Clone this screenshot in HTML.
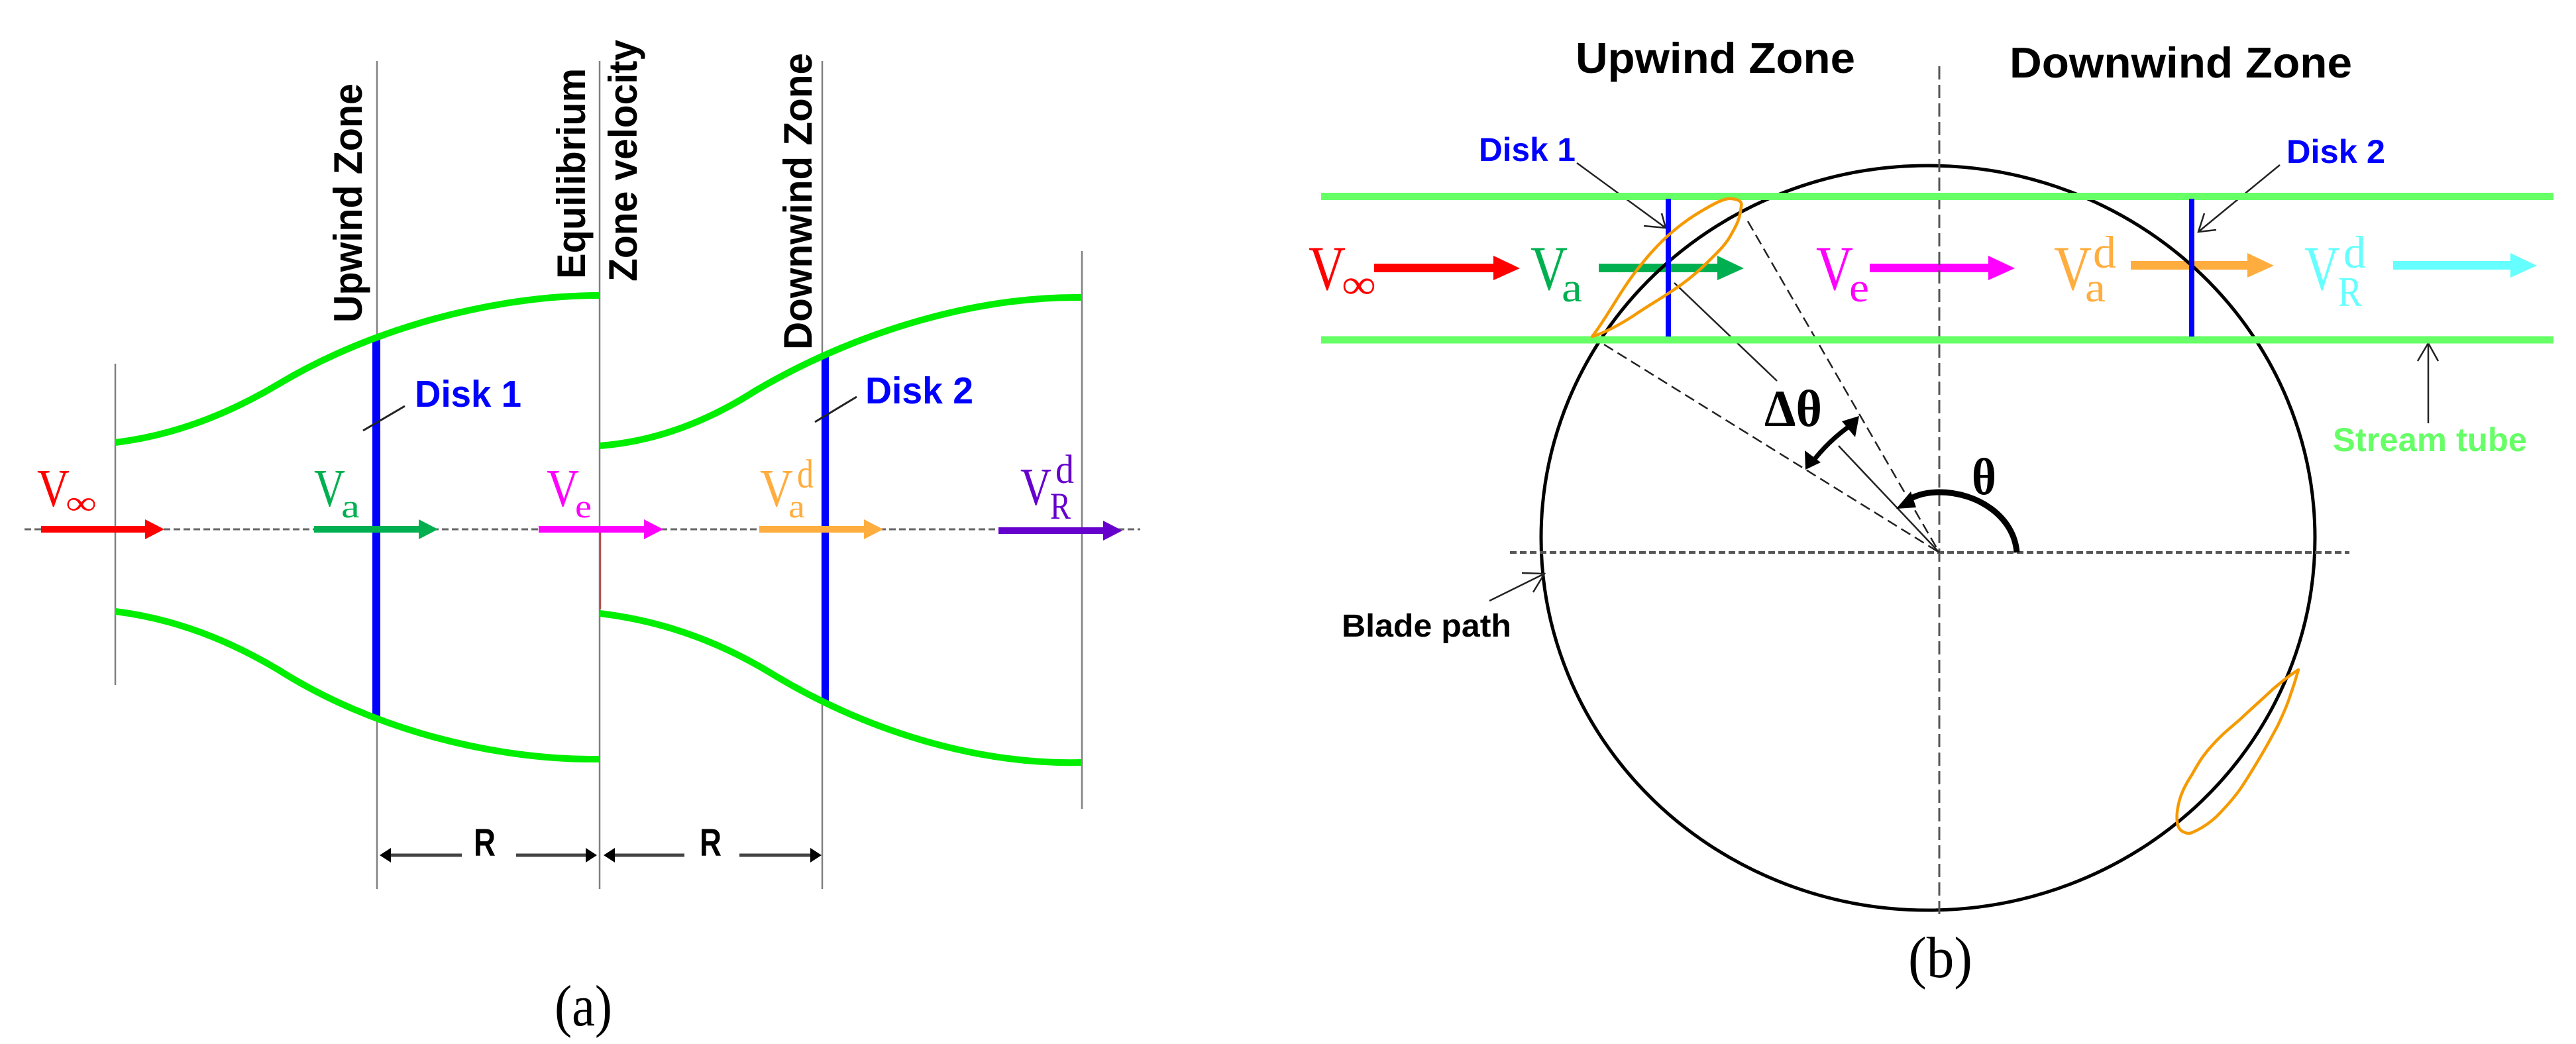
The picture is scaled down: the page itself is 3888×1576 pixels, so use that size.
<!DOCTYPE html>
<html><head><meta charset="utf-8"><style>
html,body{margin:0;padding:0;background:#fff}
svg{display:block}
.s{font-family:"Liberation Sans",sans-serif;font-weight:700}
.r{font-family:"Liberation Serif",serif}
.b{font-family:"Liberation Serif",serif;font-weight:700}
</style></head><body>
<svg xmlns="http://www.w3.org/2000/svg" width="3888" height="1576" viewBox="0 0 3888 1576">
<rect width="3888" height="1576" fill="#fff"/>

<!-- PANEL A -->
<g stroke="#808080" stroke-width="2.5" fill="none">
<line x1="174" y1="549" x2="174" y2="1034"/>
<line x1="569" y1="92" x2="569" y2="1342"/>
<line x1="905" y1="92" x2="905" y2="1342"/>
<line x1="1241" y1="92" x2="1241" y2="1342"/>
<line x1="1633" y1="379" x2="1633" y2="1221"/>
</g>
<line x1="906" y1="800" x2="906" y2="920" stroke="#b05050" stroke-width="2.5"/>
<line x1="37" y1="799" x2="1721" y2="799" stroke="#666" stroke-width="3" stroke-dasharray="10 5"/>
<rect x="562" y="510" width="12" height="572" fill="#0000ff"/>
<rect x="1240" y="538" width="11" height="524" fill="#0000ff"/>

<g fill="none" stroke="#00ee00" stroke-width="10">
<path d="M174 668 C256 658 338 629 420 580 C560 496 745 446 905 446"/>
<path d="M174 923 C256 933 338 962 420 1011 C560 1100 745 1148 905 1146"/>
<path d="M905 673 C983 667 1062 640 1140 590 C1290 502 1470 447 1633 449"/>
<path d="M905 926 C990 936 1075 963 1160 1014 C1300 1100 1470 1155 1633 1151"/>
</g>

<polygon fill="#ff0000" points="62,794 219,794 219,784 248,799 219,814 219,804 62,804"/>
<polygon fill="#00b050" points="474,794 632,794 632,784 661,799 632,814 632,804 474,804"/>
<polygon fill="#ff00ff" points="813,794 972,794 972,784 1001,799 972,814 972,804 813,804"/>
<polygon fill="#ffad3f" points="1146,794 1304,794 1304,784 1333,799 1304,814 1304,804 1146,804"/>
<polygon fill="#6600cc" points="1507,796 1665,796 1665,786 1694,801 1665,816 1665,806 1507,806"/>

<g class="s" fill="#000" font-size="60">
<text transform="translate(546,487) rotate(-90)" textLength="361" lengthAdjust="spacingAndGlyphs">Upwind Zone</text>
<text transform="translate(883,421) rotate(-90)" textLength="318" lengthAdjust="spacingAndGlyphs">Equilibrium</text>
<text transform="translate(961,425) rotate(-90)" textLength="365" lengthAdjust="spacingAndGlyphs">Zone velocity</text>
<text transform="translate(1225,528) rotate(-90)" textLength="448" lengthAdjust="spacingAndGlyphs">Downwind Zone</text>
</g>
<g class="s" fill="#0000ff" font-size="57">
<text x="626" y="614" textLength="161" lengthAdjust="spacingAndGlyphs">Disk 1</text>
<text x="1306" y="609" textLength="163" lengthAdjust="spacingAndGlyphs">Disk 2</text>
</g>
<g stroke="#222" stroke-width="3">
<line x1="611" y1="613" x2="548" y2="650"/>
<line x1="1293" y1="599" x2="1230" y2="637"/>
</g>

<g class="r" font-size="80">
<text x="56" y="764" fill="#ff0000" textLength="49" lengthAdjust="spacingAndGlyphs">V</text>
<text x="99" y="776" fill="#ff0000" font-size="50" textLength="47" lengthAdjust="spacingAndGlyphs">∞</text>
<text x="474" y="764" fill="#00b050" textLength="47" lengthAdjust="spacingAndGlyphs">V</text>
<text x="515" y="781" fill="#00b050" font-size="50" textLength="28" lengthAdjust="spacingAndGlyphs">a</text>
<text x="825" y="764" fill="#ff00ff" textLength="49" lengthAdjust="spacingAndGlyphs">V</text>
<text x="868" y="781" fill="#ff00ff" font-size="50" textLength="25" lengthAdjust="spacingAndGlyphs">e</text>
<text x="1147" y="764" fill="#ffad3f" textLength="50" lengthAdjust="spacingAndGlyphs">V</text>
<text x="1190" y="781" fill="#ffad3f" font-size="50" textLength="25" lengthAdjust="spacingAndGlyphs">a</text>
<text x="1203" y="736" fill="#ffad3f" font-size="61" textLength="25" lengthAdjust="spacingAndGlyphs">d</text>
<text x="1540" y="762" fill="#6600cc" textLength="47" lengthAdjust="spacingAndGlyphs">V</text>
<text x="1585" y="783" fill="#6600cc" font-size="57" textLength="31" lengthAdjust="spacingAndGlyphs">R</text>
<text x="1593" y="729" fill="#6600cc" font-size="61" textLength="28" lengthAdjust="spacingAndGlyphs">d</text>
</g>

<g stroke="#444" stroke-width="5">
<line x1="580" y1="1291" x2="697" y2="1291"/>
<line x1="779" y1="1291" x2="895" y2="1291"/>
<line x1="918" y1="1291" x2="1033" y2="1291"/>
<line x1="1116" y1="1291" x2="1234" y2="1291"/>
</g>
<g fill="#000">
<polygon points="573,1291 590,1280 590,1302"/>
<polygon points="901,1291 884,1280 884,1302"/>
<polygon points="911,1291 928,1280 928,1302"/>
<polygon points="1240,1291 1223,1280 1223,1302"/>
</g>
<g class="s" fill="#000" font-size="58">
<text x="715" y="1292" textLength="33" lengthAdjust="spacingAndGlyphs">R</text>
<text x="1056" y="1292" textLength="33" lengthAdjust="spacingAndGlyphs">R</text>
</g>
<text class="r" x="837" y="1548" font-size="88" fill="#000" textLength="87" lengthAdjust="spacingAndGlyphs">(a)</text>

<!-- PANEL B -->
<polygon fill="#ff0000" points="2074,398 2254,398 2254,386 2294,405 2254,423 2254,411 2074,411"/>
<polygon fill="#00b050" points="2413,398 2592,398 2592,386 2632,405 2592,423 2592,411 2413,411"/>
<polygon fill="#ff00ff" points="2822,398 3001,398 3001,386 3041,405 3001,423 3001,411 2822,411"/>
<polygon fill="#ffad3f" points="3216,394 3392,394 3392,382 3432,401 3392,419 3392,407 3216,407"/>
<polygon fill="#66ffff" points="3612,394 3789,394 3789,382 3829,401 3789,419 3789,407 3612,407"/>

<ellipse cx="2910" cy="812" rx="584" ry="562" fill="none" stroke="#000" stroke-width="5"/>

<line x1="2927" y1="100" x2="2927" y2="1381" stroke="#555" stroke-width="3" stroke-dasharray="20 8"/>
<line x1="2279" y1="834" x2="3546" y2="834" stroke="#555" stroke-width="4" stroke-dasharray="10 5"/>

<g stroke="#222" stroke-width="2.5" fill="none">
<line x1="2421" y1="520" x2="2927" y2="834" stroke-dasharray="16 8"/>
<line x1="2638" y1="334" x2="2927" y2="834" stroke-dasharray="16 8"/>
<line x1="2527" y1="427" x2="2682" y2="575"/>
<line x1="2775" y1="673" x2="2927" y2="834"/>
<polyline points="2380,246 2514,344"/>
<polyline points="2481,341 2514,344 2508,322"/>
<polyline points="3441,249 3318,350"/>
<polyline points="3345,347 3318,350 3327,322"/>
<polyline points="2248,907 2331,866"/>
<polyline points="2297,865 2331,866 2314,894"/>
<line x1="3665" y1="639" x2="3665" y2="518"/>
<polyline points="3649,545 3665,518 3680,545"/>
</g>

<g stroke="#66ff66" stroke-width="11">
<line x1="1994" y1="296.5" x2="3854" y2="296.5"/>
<line x1="1994" y1="513" x2="3854" y2="513"/>
</g>
<rect x="2514" y="300" width="8" height="208" fill="#0000ff"/>
<rect x="3304" y="300" width="8" height="208" fill="#0000ff"/>

<g fill="none" stroke="#f59a00" stroke-width="4.5" stroke-linejoin="round">
<path d="M2403 508 C2425 480 2445 440 2471 407 C2490 383 2520 345 2576 314 C2590 306 2605 298 2614 300 C2625 301 2630 305 2628 312 C2626 330 2622 338 2614 352 C2605 370 2590 383 2576 397 C2560 413 2545 425 2527 437 C2505 452 2485 463 2465 477 C2440 493 2420 503 2403 508 Z"/>
<path d="M3469 1011 C3455 1020 3445 1028 3432 1039 C3415 1055 3400 1068 3382 1085 C3365 1100 3352 1110 3339 1125 C3325 1140 3318 1152 3308 1170 C3298 1185 3292 1198 3289 1210 C3286 1222 3285 1232 3286 1240 C3287 1250 3291 1254 3296 1256 C3300 1258 3304 1259 3308 1257 C3320 1252 3332 1245 3345 1233 C3358 1220 3370 1207 3382 1190 C3394 1172 3403 1157 3413 1140 C3422 1125 3430 1110 3438 1095 C3445 1080 3452 1065 3457 1049 C3462 1035 3466 1022 3469 1011 Z"/>
</g>

<g class="s" fill="#000">
<text x="2378" y="110" font-size="65" textLength="422" lengthAdjust="spacingAndGlyphs">Upwind Zone</text>
<text x="3033" y="117" font-size="65" textLength="517" lengthAdjust="spacingAndGlyphs">Downwind Zone</text>
<text x="2025" y="961" font-size="48" textLength="256" lengthAdjust="spacingAndGlyphs">Blade path</text>
</g>
<g class="s" fill="#0000ff" font-size="50">
<text x="2232" y="243" textLength="146" lengthAdjust="spacingAndGlyphs">Disk 1</text>
<text x="3451" y="246" textLength="149" lengthAdjust="spacingAndGlyphs">Disk 2</text>
</g>
<text class="s" x="3521" y="681" font-size="50" fill="#66ff66" textLength="293" lengthAdjust="spacingAndGlyphs">Stream tube</text>

<g class="r" font-size="95">
<text x="1975" y="437" fill="#ff0000" textLength="56" lengthAdjust="spacingAndGlyphs">V</text>
<text x="2025" y="450" fill="#ff0000" font-size="62" textLength="52" lengthAdjust="spacingAndGlyphs">∞</text>
<text x="2310" y="437" fill="#00b050" textLength="56" lengthAdjust="spacingAndGlyphs">V</text>
<text x="2357" y="455" fill="#00b050" font-size="62" textLength="31" lengthAdjust="spacingAndGlyphs">a</text>
<text x="2741" y="437" fill="#ff00ff" textLength="56" lengthAdjust="spacingAndGlyphs">V</text>
<text x="2791" y="455" fill="#ff00ff" font-size="62" textLength="30" lengthAdjust="spacingAndGlyphs">e</text>
<text x="3100" y="437" fill="#ffad3f" textLength="57" lengthAdjust="spacingAndGlyphs">V</text>
<text x="3147" y="455" fill="#ffad3f" font-size="62" textLength="31" lengthAdjust="spacingAndGlyphs">a</text>
<text x="3159" y="404" fill="#ffad3f" font-size="69" textLength="35" lengthAdjust="spacingAndGlyphs">d</text>
<text x="3478" y="437" fill="#66ffff" textLength="53" lengthAdjust="spacingAndGlyphs">V</text>
<text x="3529" y="462" fill="#66ffff" font-size="64" textLength="36" lengthAdjust="spacingAndGlyphs">R</text>
<text x="3537" y="404" fill="#66ffff" font-size="69" textLength="34" lengthAdjust="spacingAndGlyphs">d</text>
</g>

<text class="b" x="2663" y="643" font-size="78" fill="#000" textLength="87" lengthAdjust="spacingAndGlyphs">Δθ</text>
<text class="b" x="2976" y="746" font-size="78" fill="#000" textLength="37" lengthAdjust="spacingAndGlyphs">θ</text>

<path d="M2796 640 Q2760 665 2735 698" fill="none" stroke="#000" stroke-width="7"/>
<polygon fill="#000" points="2806,628 2780,636 2800,660"/>
<polygon fill="#000" points="2725,709 2724,680 2748,698"/>

<path d="M3044 834 C3040 780 2985 743 2927 743 C2905 743 2890 748 2878 756" fill="none" stroke="#000" stroke-width="9"/>
<polygon fill="#000" points="2862,768 2884,742 2892,766"/>

<text class="r" x="2880" y="1475" font-size="88" fill="#000" textLength="97" lengthAdjust="spacingAndGlyphs">(b)</text>
</svg>
</body></html>
